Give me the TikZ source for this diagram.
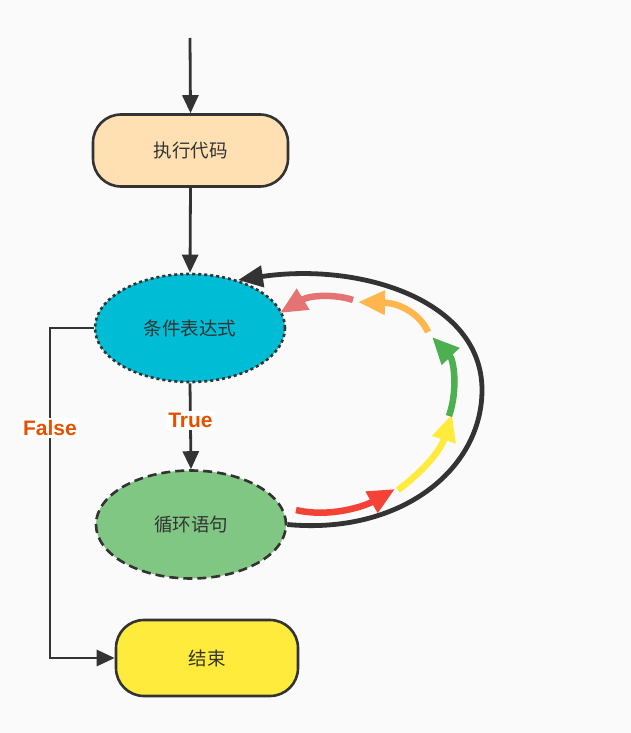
\documentclass[tikz,border=0pt]{standalone}
\usepackage{fontspec}
\setmainfont{Noto Sans CJK SC}
\newfontfamily\lblfont{Liberation Sans}
\usetikzlibrary{shapes.geometric,arrows.meta}
\definecolor{ink}{HTML}{333333}
\definecolor{bg}{HTML}{FAFAFA}
\definecolor{peach}{HTML}{FFE0B2}
\definecolor{cyanfill}{HTML}{00BCD4}
\definecolor{greenfill}{HTML}{81C784}
\definecolor{yellowfill}{HTML}{FFEB3B}
\definecolor{lblcol}{HTML}{E65100}
\definecolor{cred}{HTML}{F44336}
\definecolor{cyellow}{HTML}{FFEB3B}
\definecolor{cgreen}{HTML}{4CAF50}
\definecolor{corange}{HTML}{FFB74D}
\definecolor{cpink}{HTML}{E57373}
\begin{document}
\begin{tikzpicture}[x=1pt,y=-1pt,
  txt/.style={font=\fontsize{18.5}{22}\selectfont, text=ink},
  roundbox/.style={txt, draw=ink, line width=2.6pt, rounded corners=28pt, minimum width=195pt, minimum height=72pt, inner sep=0pt},
  ell/.style={txt, ellipse, draw=ink, line width=2.6pt, minimum width=190pt, minimum height=108pt, inner sep=0pt},
  conn/.style={draw=ink, line width=2.8pt, -{Triangle[length=18pt,width=16pt]}},
  lbl/.style={font=\lblfont\bfseries\fontsize{21}{24}\selectfont, text=lblcol, fill=white, inner sep=2pt},
  bigloop/.style={draw=ink, line width=4.8pt, -{Triangle[length=25pt,width=21pt]}},
  carrow/.style={line width=6.5pt, -{Triangle[length=27pt,width=23pt]}}
]
\fill[bg] (0,0) rectangle (631,733);
\useasboundingbox (0,0) rectangle (631,733);

\coordinate (start) at (190,38);
\node[roundbox, fill=peach] (exec) at (190.5,150.5) {执行代码};
\node[ell, fill=cyanfill, dash pattern=on 3pt off 3pt] (cond) at (190,328) {条件表达式};
\node[ell, fill=greenfill, dash pattern=on 9pt off 5pt] (body) at (191,524.5) {循环语句};
\node[roundbox, fill=yellowfill, minimum width=182pt, minimum height=76pt] (stop) at (207,658) {结束};

\draw[conn] (start) -- (exec.north);
\draw[conn] (exec.south) -- (cond.north);
\draw[conn] (cond.south) -- node[lbl, pos=0.43] {True} (body.north);
\draw[conn] (cond.west) -- (50,328) |- (stop.west);
\node[lbl] (falselbl) at (50,428) {False};

\draw[bigloop] (body.east) .. controls (400,535) and (482,470) .. (482,390)
  .. controls (482,300) and (360,262) .. (cond.45);

\coordinate (r0) at (296,510); \coordinate (r1) at (395,489);
\coordinate (y0) at (398,490); \coordinate (y1) at (452,414);
\coordinate (g0) at (449,416); \coordinate (g1) at (432,337);
\coordinate (o0) at (428,332); \coordinate (o1) at (358,302);
\coordinate (p0) at (353,300); \coordinate (p1) at (280,313);
\draw[carrow, cred] (r0) .. controls (330,518) and (365,506) .. (r1);
\draw[carrow, cyellow] (y0) .. controls (422,472) and (440,452) .. (y1);
\draw[carrow, cgreen] (g0) .. controls (458,390) and (454,360) .. (g1);
\draw[carrow, corange] (o0) .. controls (420,314) and (400,303) .. (o1);
\draw[carrow, cpink] (p0) .. controls (335,294) and (310,295) .. (p1);
\end{tikzpicture}
\end{document}
